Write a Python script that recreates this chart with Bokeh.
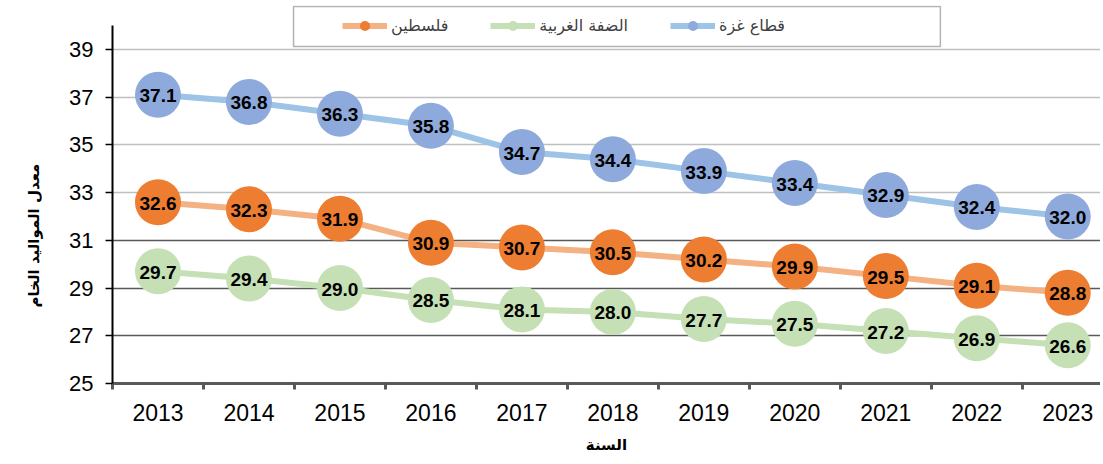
from bokeh.plotting import figure
from bokeh.models import (FixedTicker, Grid, Legend, LegendItem, BoxAnnotation, Range1d, Title)
from bokeh.core.properties import value
from bokeh.embed import file_html
from bokeh.resources import INLINE

# ---------------- data ----------------
years = [2013, 2014, 2015, 2016, 2017, 2018, 2019, 2020, 2021, 2022, 2023]
gaza = [37.1, 36.8, 36.3, 35.8, 34.7, 34.4, 33.9, 33.4, 32.9, 32.4, 32.0]
palestine = [32.6, 32.3, 31.9, 30.9, 30.7, 30.5, 30.2, 29.9, 29.5, 29.1, 28.8]
west_bank = [29.7, 29.4, 29.0, 28.5, 28.1, 28.0, 27.7, 27.5, 27.2, 26.9, 26.6]
y_ticks = [25, 27, 29, 31, 33, 35, 37, 39]
name_gaza = "قطاع غزة"
name_wb = "الضفة الغربية"
name_pal = "فلسطين"
x_title = "السنة"
y_title = "معدل المواليد الخام"

# ---------------- figure ----------------
p = figure(width=1100, height=462, output_backend="svg", toolbar_location=None,
           x_range=Range1d(2012.5, 2023.36), y_range=Range1d(25, 40.84),
           min_border_left=112, min_border_top=5, min_border_right=0, min_border_bottom=79)
p.outline_line_color = None
p.background_fill_color = "white"
p.xgrid.visible = False
p.ygrid.visible = False

light_grid = Grid(dimension=1, ticker=FixedTicker(ticks=[t for t in y_ticks if t >= 33]),
                  grid_line_color="#BFBFBF", grid_line_width=1.5)
dark_grid = Grid(dimension=1, ticker=FixedTicker(ticks=[t for t in y_ticks if 25 < t < 33]),
                 grid_line_color="#595959", grid_line_width=1.5)
p.add_layout(light_grid)
p.add_layout(dark_grid)

boundaries = [y - 0.5 for y in years] + [years[-1] + 0.5]

xa = p.xaxis[0]
xa.ticker = FixedTicker(ticks=years, minor_ticks=boundaries)
xa.major_tick_line_color = None
xa.major_tick_out = 0
xa.major_tick_in = 0
xa.minor_tick_out = 6
xa.minor_tick_in = 0
xa.minor_tick_line_color = "#595959"
xa.minor_tick_line_width = 3
xa.axis_line_color = "#595959"
xa.axis_line_width = 3
xa.major_label_text_font = "Liberation Sans"
xa.major_label_text_font_size = "23px"
xa.major_label_text_color = "black"
xa.major_label_standoff = 14
xa.axis_label = x_title
xa.axis_label_text_font = "DejaVu Sans"
xa.axis_label_text_font_style = "bold"
xa.axis_label_text_font_size = "15px"
xa.axis_label_text_color = "black"
xa.axis_label_standoff = 12

ya = p.yaxis[0]
ya.ticker = FixedTicker(ticks=y_ticks)
ya.bounds = (25, 40)
ya.minor_tick_line_color = None
ya.major_tick_out = 7
ya.major_tick_in = 0
ya.major_tick_line_color = "black"
ya.major_tick_line_width = 1.5
ya.axis_line_color = "black"
ya.axis_line_width = 2
ya.major_label_text_font = "Liberation Sans"
ya.major_label_text_font_size = "22px"
ya.major_label_text_color = "black"
ya.major_label_standoff = 12

ytitle = Title(text=y_title, align="left", vertical_align="top", offset=76, standoff=44,
               text_font="DejaVu Sans", text_font_style="bold", text_font_size="15px",
               text_color="black")
p.add_layout(ytitle, "left")

# legend frame
box = BoxAnnotation(left=2014.49, right=2021.6, top=40.80, bottom=39.12,
                    fill_color="white", fill_alpha=1.0, line_color="black", line_width=1.5)
p.add_layout(box)

series = [
    (gaza, "#9DC3E6", "#8EA9DB"),
    (west_bank, "#C5E0B4", "#C5E0B4"),
    (palestine, "#F4B183", "#ED7D31"),
]
rends = []
for vals, lc, mc in series:
    l = p.line(years, vals, line_color=lc, line_width=6)
    s = p.scatter(years, vals, size=46, fill_color=mc, line_color=None)
    p.text(years, vals, text=[f"{v:.1f}" for v in vals], text_align="center",
           text_baseline="middle", text_font=value("Liberation Sans"),
           text_font_style="bold", text_font_size="19px", text_color="black", y_offset=1)
    rends.append((l, s))

items = [
    LegendItem(label=name_pal, renderers=list(rends[2])),
    LegendItem(label=name_wb, renderers=list(rends[1])),
    LegendItem(label=name_gaza, renderers=list(rends[0])),
]
legend = Legend(items=items, orientation="horizontal", location=(230, 345),
                border_line_color=None, background_fill_alpha=0.0,
                label_text_font="DejaVu Sans", label_text_font_size="16px",
                label_text_color="#404040", glyph_width=45, glyph_height=25,
                spacing=42, label_standoff=4, padding=0, margin=0)
p.add_layout(legend)

open("out.html", "w").write(file_html(p, INLINE))
